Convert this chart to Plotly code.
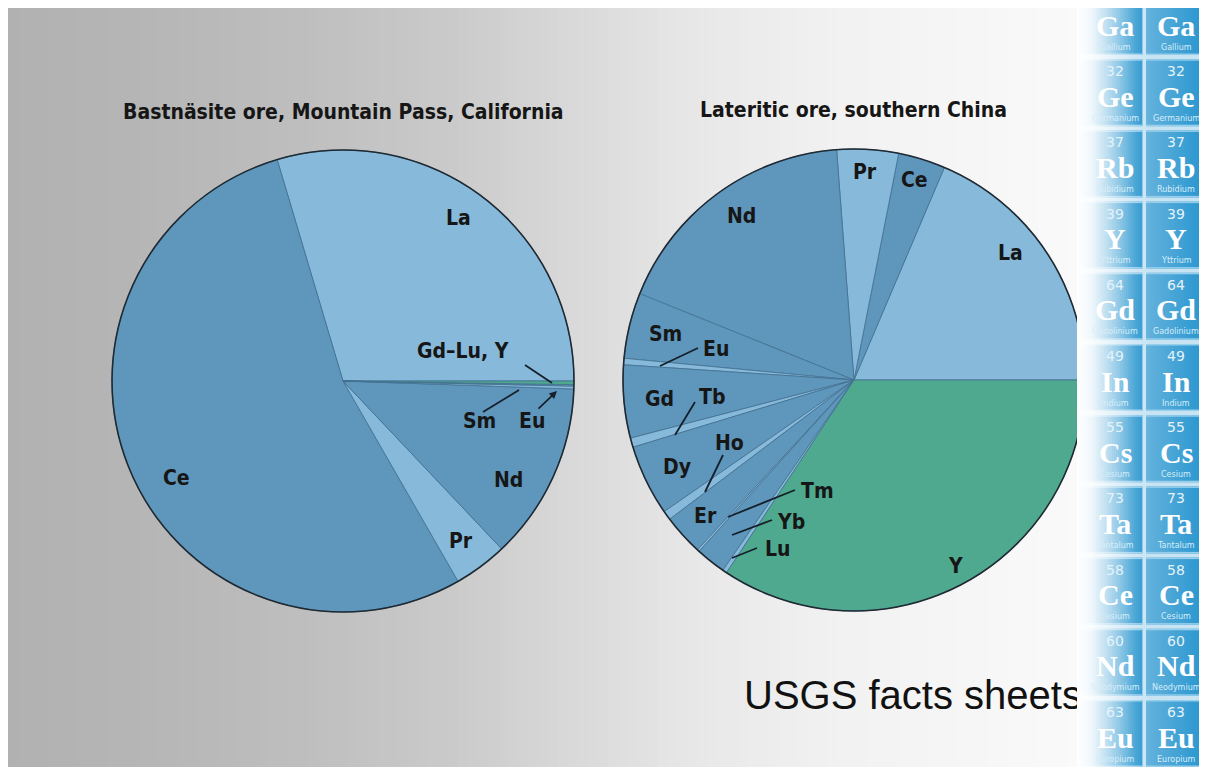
import plotly.graph_objects as go

W, H = 1207, 767
OFF = 8  # page margin: figure origin sits at (8, 8) in the window

# ---------------- data ----------------
left_title = "Bastnäsite ore, Mountain Pass, California"
left_labels = ["La", "Ce", "Pr", "Nd", "Sm", "Eu", "Gd–Lu, Y"]
left_values = [29.6, 53.7, 3.75, 12.4, 0.2, 0.1, 0.25]
left_shades = ["light", "mid", "light", "mid", "light", "mid", "green"]

right_title = "Lateritic ore, southern China"
right_labels = ["La", "Ce", "Pr", "Nd", "Sm", "Eu", "Gd", "Tb", "Dy", "Ho",
                "Er", "Tm", "Yb", "Lu", "Y"]
right_values = [18.6, 3.3, 4.3, 17.7, 4.6, 0.45, 5.1, 0.65, 4.95, 0.65,
                2.85, 0.15, 2.1, 0.3, 34.3]
right_shades = ["light", "mid", "light", "mid", "mid", "light", "mid", "light",
                "mid", "light", "mid", "light", "mid", "light", "green"]

tile_numbers = ["31", "32", "37", "39", "64", "49", "55", "73", "58", "60", "63"]
tile_symbols = ["Ga", "Ge", "Rb", "Y", "Gd", "In", "Cs", "Ta", "Ce", "Nd", "Eu"]
tile_names = ["Gallium", "Germanium", "Rubidium", "Yttrium", "Gadolinium",
              "Indium", "Cesium", "Tantalum", "Cesium", "Neodymium", "Europium"]

footer_text = "USGS facts sheets"

# ---------------- styles ----------------
SHADE = {"light": "#87b9db", "mid": "#5f96bc", "green": "#4fa98f"}
LBL_FONT = "DejaVu Sans Condensed, Liberation Sans Narrow, Arial Narrow, sans-serif"
TXT = "#161616"

# label positions (window pixel coords, y from top)
left_label_pos = {"La": (458, 218), "Ce": (176, 478), "Pr": (461, 541), "Nd": (508, 480),
                  "Sm": (479, 421), "Eu": (532, 421), "Gd–Lu, Y": (463, 351)}
right_label_pos = {"La": (1010, 253), "Ce": (914, 180), "Pr": (865, 172), "Nd": (741, 216),
                   "Sm": (665, 334), "Eu": (716, 349), "Gd": (659, 399), "Tb": (712, 397),
                   "Dy": (677, 467), "Ho": (729, 443), "Er": (705, 516), "Tm": (817, 491),
                   "Yb": (791, 522), "Lu": (778, 549), "Y": (955, 566)}
leaders = [((525, 365), (552, 383)), ((483, 412), (519, 390)),
           ((698, 348), (660, 366)), ((695, 402), (675, 435)), ((723, 455), (705, 492)),
           ((795, 490), (728, 517)), ((772, 520), (732, 535)), ((757, 548), (732, 558))]


def pdom(cx, cy, r):
    fx, fy = cx - OFF, cy - OFF
    return dict(x=[(fx - r) / W, (fx + r) / W], y=[(H - fy - r) / H, (H - fy + r) / H])


LEFT_C, RIGHT_C, R = (343, 381), (854, 380), 231

fig = go.Figure()

# footer text (cartesian layer, so the strip can cover its end)
fig.add_trace(go.Scatter(x=[744], y=[699], mode="text", text=[footer_text],
                         textposition="middle right", hoverinfo="skip", showlegend=False,
                         textfont=dict(family="Liberation Sans, Arial, sans-serif",
                                       size=40, color="#111111")))

for labels, values, shades, c in [(left_labels, left_values, left_shades, LEFT_C),
                                  (right_labels, right_values, right_shades, RIGHT_C)]:
    # first slice starts at 3 o'clock and slices run counterclockwise
    rot = 90 - 360.0 * values[0] / sum(values)
    fig.add_trace(go.Pie(labels=labels, values=values, sort=False,
                         direction="counterclockwise", rotation=rot,
                         marker=dict(colors=[SHADE[s] for s in shades],
                                     line=dict(color="#42708f", width=0.8)),
                         textinfo="none", hoverinfo="label+percent", showlegend=False,
                         domain=pdom(c[0], c[1], R)))
    # outer outline
    fig.add_trace(go.Pie(labels=["outline"], values=[1], sort=False,
                         marker=dict(colors=["rgba(0,0,0,0)"],
                                     line=dict(color="#1f2a33", width=1.6)),
                         textinfo="none", hoverinfo="skip", showlegend=False,
                         domain=pdom(c[0], c[1], R)))

shapes = []


def interp(x, xs, ys):
    if x <= xs[0]:
        return ys[0]
    for i in range(len(xs) - 1):
        if xs[i] <= x <= xs[i + 1]:
            t = (x - xs[i]) / (xs[i + 1] - xs[i])
            return ys[i] + t * (ys[i + 1] - ys[i])
    return ys[-1]


def rect(x0, x1, y0, y1, color, layer="above"):
    shapes.append(dict(type="rect", xref="x", yref="y", x0=x0, x1=x1, y0=y0, y1=y1,
                       fillcolor=color, line=dict(width=0), layer=layer))


# gray gradient background
gx = [8, 150, 300, 450, 600, 700, 850, 1000, 1077]
gg = [177, 182, 190, 202, 220, 232, 242, 247, 250]
x0 = 8
while x0 < 1077:
    x1 = min(x0 + 10, 1077)
    g = int(round(interp((x0 + x1) / 2, gx, gg)))
    rect(x0, x1 + 0.5, 8, H + OFF, f"rgb({g},{g},{g})", layer="below")
    x0 = x1

# periodic-table strip (above pies), faded to white on its left side
fx = [1077, 1092, 1112, 1135, 1150]
fo = [1.0, 0.9, 0.55, 0.15, 0.0]


def blend(col, x):
    w = interp(x, fx, fo)
    return "rgb(%d,%d,%d)" % tuple(int(round(c + (255 - c) * w)) for c in col)


STRIP_BG = (200, 228, 243)
x0 = 1077
while x0 < 1150:
    rect(x0, x0 + 2.4, 0, H + OFF, blend(STRIP_BG, x0 + 1))
    x0 += 2
rect(1150, W + OFF, 0, H + OFF, blend(STRIP_BG, 1200))

cols = [(1080, 1142), (1146, 1206)]
c_left, c_right = (100, 178, 220), (36, 148, 206)
BORDER = (150, 206, 236)
for i in range(len(tile_symbols)):
    top = -12 + 71.2 * i
    for (a, b) in cols:
        wseg = 2.0
        k = 0
        x = a
        while x < b:
            xe = min(x + wseg, b)
            t = (x - a) / (b - a)
            col = tuple(c_left[j] + t * (c_right[j] - c_left[j]) for j in range(3))
            rect(x, xe + 0.4, top, top + 67, blend(col, (x + xe) / 2))
            # lighter border lines top/bottom
            rect(x, xe + 0.4, top, top + 1.5, blend(BORDER, (x + xe) / 2))
            rect(x, xe + 0.4, top + 65.5, top + 67, blend(BORDER, (x + xe) / 2))
            x = xe

# leader lines
for (p, q) in leaders:
    shapes.append(dict(type="line", xref="x", yref="y", x0=p[0], y0=p[1], x1=q[0], y1=q[1],
                       line=dict(color="#15202a", width=1.8), layer="above"))

annotations = []
annotations.append(dict(x=343, y=112, xref="x", yref="y", text=f"<b>{left_title}</b>",
                        showarrow=False, font=dict(family=LBL_FONT, size=21, color=TXT)))
annotations.append(dict(x=853, y=110, xref="x", yref="y", text=f"<b>{right_title}</b>",
                        showarrow=False, font=dict(family=LBL_FONT, size=21, color=TXT)))
for lab in left_labels:
    x, y = left_label_pos[lab]
    annotations.append(dict(x=x, y=y, xref="x", yref="y", text=f"<b>{lab}</b>",
                            showarrow=False, font=dict(family=LBL_FONT, size=21, color=TXT)))
for lab in right_labels:
    x, y = right_label_pos[lab]
    annotations.append(dict(x=x, y=y, xref="x", yref="y", text=f"<b>{lab}</b>",
                            showarrow=False, font=dict(family=LBL_FONT, size=21, color=TXT)))
# Eu arrow (left pie)
annotations.append(dict(x=557, y=391, ax=537, ay=410, xref="x", yref="y", axref="x", ayref="y",
                        text="", showarrow=True, arrowhead=2, arrowsize=0.9, arrowwidth=1.7,
                        arrowcolor="#15202a", standoff=0, startstandoff=0))

# tile texts (only the parts that fall inside the window)
for i in range(len(tile_symbols)):
    top = -12 + 71.2 * i
    for (a, b) in cols:
        cx = (a + b) / 2 + (4 if a < 1100 else 0)
        if top + 12 > 14:
            annotations.append(dict(x=cx, y=top + 12, xref="x", yref="y", text=tile_numbers[i],
                                    showarrow=False,
                                    font=dict(family="DejaVu Sans", size=14, color="#e4f3fb")))
        annotations.append(dict(x=cx, y=top + 37, xref="x", yref="y",
                                text=f"<b>{tile_symbols[i]}</b>", showarrow=False,
                                font=dict(family="Liberation Serif, DejaVu Serif, serif",
                                          size=30, color="#ffffff")))
        annotations.append(dict(x=cx, y=top + 59, xref="x", yref="y", text=tile_names[i],
                                showarrow=False,
                                font=dict(family="DejaVu Sans", size=8, color="#d7eef9")))

fig.update_layout(
    width=W, height=H, autosize=False,
    margin=dict(l=0, r=0, t=0, b=0, pad=0),
    paper_bgcolor="white", plot_bgcolor="rgba(0,0,0,0)",
    xaxis=dict(range=[OFF, W + OFF], visible=False, fixedrange=True, domain=[0, 1]),
    yaxis=dict(range=[H + OFF, OFF], visible=False, fixedrange=True, domain=[0, 1]),
    shapes=shapes, annotations=annotations, showlegend=False,
)

fig.write_html("out.html")
